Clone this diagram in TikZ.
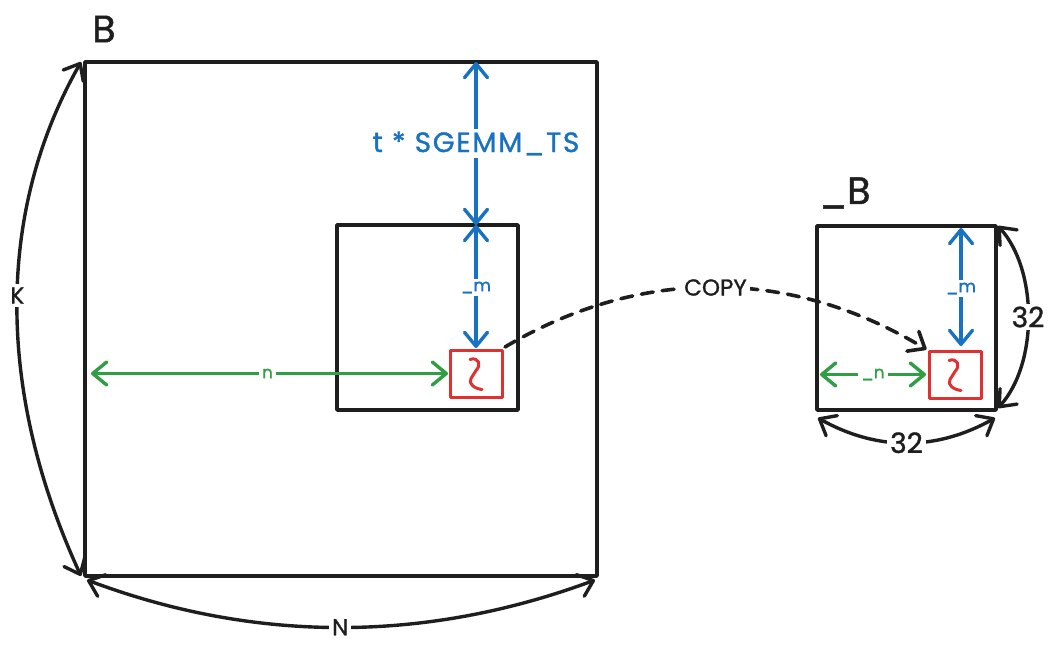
\documentclass[tikz,border=0pt]{standalone}
\usepackage{fontspec}
\setmainfont{Poppins}[FakeBold=1.2]
\newfontfamily\hand{Poppins}[FakeBold=1.2]
\usetikzlibrary{arrows.meta,calc}
\definecolor{ink}{HTML}{1E1E1E}
\definecolor{exblue}{HTML}{1971C2}
\definecolor{exgreen}{HTML}{2F9E44}
\definecolor{exred}{HTML}{E03131}
\begin{document}
\begin{tikzpicture}[x=1pt,y=-1pt,line cap=round,line join=round,
  frame/.style={draw=ink,line width=3.5pt,inner sep=0pt,outer sep=0pt},
  tile/.style={draw=exred,line width=3pt,inner sep=0pt,outer sep=0pt,
    minimum width=52pt,minimum height=47pt},
  barb/.tip={Straight Barb[round,length=14pt,width=23pt]},
  twoway/.style={line width=3.4pt,barb-barb},
  oneway/.style={line width=3.6pt,-barb},
  lbl/.style={fill=white,inner sep=3pt},
  big/.style={font=\hand\fontsize{38}{40}\selectfont},
  mid/.style={font=\hand\fontsize{28}{30}\selectfont},
  wide/.style={font=\hand\addfontfeature{LetterSpace=6}\fontsize{28}{30}\selectfont},
  sml/.style={font=\hand\fontsize{23}{25}\selectfont},
  tiny/.style={font=\hand\fontsize{17}{19}\selectfont},
  squiggle/.style={draw=exred,line width=3pt}]
\useasboundingbox (0,0) rectangle (1058,655);

% matrix B and its tile
\node[frame,minimum width=512pt,minimum height=514pt] (bigB) at (341,319) {};
\node[frame,minimum width=181pt,minimum height=185pt] (tileB) at (427.5,317.5) {};
\node[tile] (redA) at (476,373.5) {};
\node[big,ink] (titleB) at (104,29) {B};

% local copy _B
\node[frame,minimum width=179pt,minimum height=184pt] (smallB) at (906.5,318) {};
\node[tile] (redB) at (955,374.5) {};
\node[big,ink] (titleBs) at (845,193) {\_B};

% thread element markers
\foreach \t in {redA,redB}
  \draw[squiggle] ($(\t)+(-6,-14)$) .. controls ($(\t)+(2,-17)$) and ($(\t)+(6,-9)$) ..
    ($(\t)+(0,-3)$) -- ($(\t)+(-5,5)$) .. controls ($(\t)+(-8,10)$) and ($(\t)+(-2,15)$) ..
    ($(\t)+(6,16)$);

% offsets inside B
\draw[twoway,exblue] (bigB.north -| redA.center) --
  node[lbl,wide] (tsz) {t * SGEMM\_TS} (tileB.north -| redA.center);
\draw[twoway,exblue,shorten >=2pt] (tileB.north -| redA.center) --
  node[lbl,tiny] (mA) {\_m} (redA.north);
\draw[twoway,exgreen,shorten <=6pt,shorten >=2pt] (bigB.west |- redA.center) --
  node[lbl,tiny] (nA) {n} (redA.west);

% offsets inside _B
\coordinate (colB) at ($(redB.north)+(6,0)$);
\draw[twoway,exblue,shorten <=2pt,shorten >=5pt] (smallB.north -| colB) --
  node[lbl,tiny] (mB) {\_m} (colB);
\draw[twoway,exgreen,shorten <=3pt,shorten >=3pt] (smallB.west |- redB.center) --
  node[lbl,tiny] (nB) {\_n} (redB.west);

% dimensions of B
\draw[twoway,ink] ($(bigB.north west)+(-4,0)$) .. controls +(-85,150) and +(-85,-185) ..
  node[lbl,sml,pos=0.48] (dimK) {K} ($(bigB.south west)+(-4,0)$);
\draw[twoway,ink] ($(bigB.south west)+(2,4)$) .. controls +(168,63) and +(-170,63) ..
  node[lbl,sml] (dimN) {N} ($(bigB.south east)+(-2,4)$);

% dimensions of _B
\draw[twoway,ink] ($(smallB.north east)+(2,0)$) .. controls +(40,44) and +(40,-44) ..
  node[lbl,mid] (dimR) {32} ($(smallB.south east)+(2,-2)$);
\draw[twoway,ink] ($(smallB.south west)+(1,8)$) .. controls +(59,33) and +(-59,33) ..
  node[lbl,mid] (dimS) {32} ($(smallB.south east)+(-1,8)$);

% copy into the local buffer
\draw[oneway,ink,dash pattern=on 12pt off 9pt,shorten >=3pt]
  ($(redA.north east)+(3,-3)$) .. controls +(135,-80) and +(-139,-84) ..
  node[lbl,sml] (copy) {COPY} (redB.north west);
\end{tikzpicture}
\end{document}
